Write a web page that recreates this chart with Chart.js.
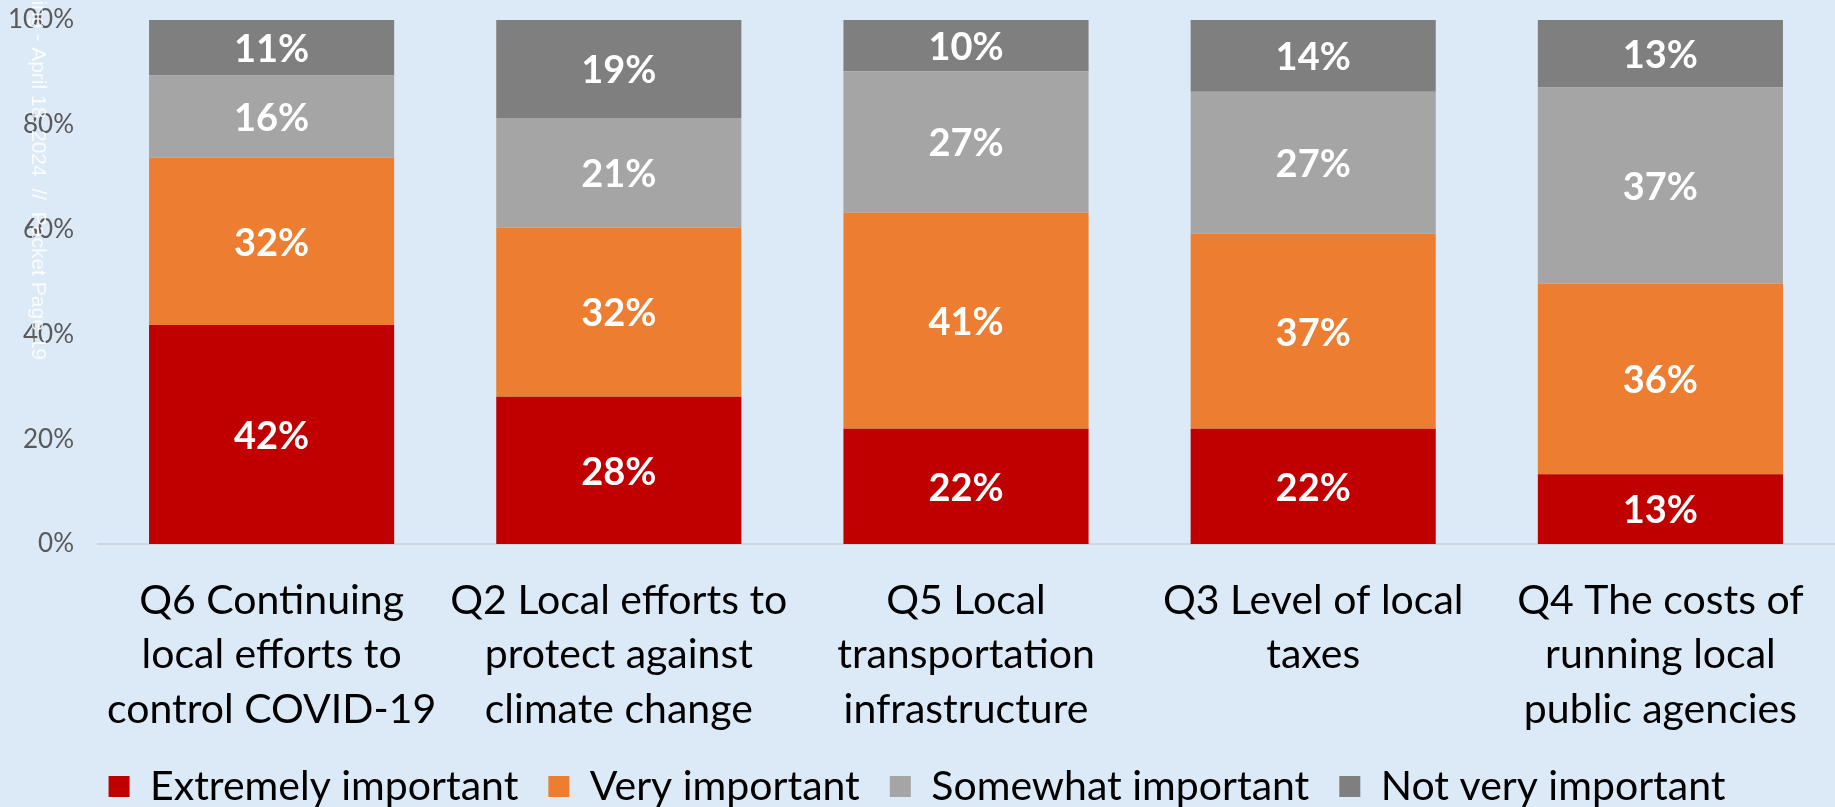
<!DOCTYPE html>
<html>
<head>
<meta charset="utf-8">
<script src="https://cdn.jsdelivr.net/npm/chart.js@4/dist/chart.umd.min.js"></script>
<style>
  html, body { margin: 0; padding: 0; background: #DCE9F6; }
  #wrap { width: 1835px; height: 807px; position: relative; }
</style>
</head>
<body>
<div id="wrap"><canvas id="c" width="1835" height="807"></canvas></div>
<script>
const categories = [
  ["Q6 Continuing", "local efforts to", "control COVID-19"],
  ["Q2 Local efforts to", "protect against", "climate change"],
  ["Q5 Local", "transportation", "infrastructure"],
  ["Q3 Level of local", "taxes"],
  ["Q4 The costs of", "running local", "public agencies"]
];
const seriesNames = ["Extremely important", "Very important", "Somewhat important", "Not very important"];
const extremelyImportant = [41.8, 28.1, 22.0, 22.0, 13.3];
const veryImportant      = [31.9, 32.3, 41.2, 37.2, 36.4];
const somewhatImportant  = [15.7, 20.9, 27.0, 27.1, 37.4];
const notVeryImportant   = [10.6, 18.7,  9.8, 13.7, 12.9];
const yTicks = [0, 20, 40, 60, 80, 100];
const colors = ["#C00000", "#ED7D31", "#A5A5A5", "#7F7F7F"];

const FONT = "Lato, 'Open Sans', sans-serif";

const dataLabels = {
  id: 'dataLabels',
  afterDatasetsDraw(chart) {
    const ctx = chart.ctx;
    ctx.save();
    ctx.fillStyle = '#FFFFFF';
    ctx.font = "bold 38px " + FONT;
    ctx.textAlign = 'center';
    ctx.textBaseline = 'middle';
    chart.data.datasets.forEach((ds, di) => {
      const meta = chart.getDatasetMeta(di);
      meta.data.forEach((el, i) => {
        const v = ds.data[i];
        const p = el.getProps(['x', 'y', 'base'], true);
        ctx.fillText(Math.round(v) + '%', p.x, (p.y + p.base) / 2 + 2);
      });
    });
    ctx.restore();
  }
};

const watermark = {
  id: 'watermark',
  afterDraw(chart) {
    const ctx = chart.ctx;
    ctx.save();
    ctx.translate(38, 0);
    ctx.rotate(Math.PI / 2);
    ctx.font = "21px 'Liberation Sans', Arial, sans-serif";
    ctx.fillStyle = 'rgba(255,255,255,0.85)';
    ctx.textAlign = 'right';
    ctx.textBaseline = 'middle';
    ctx.fillText("Meeting - April 18, 2024  //  Packet Page 19", 360, 0);
    ctx.restore();
  }
};

const bgPlugin = {
  id: 'bg',
  beforeDraw(chart) {
    const ctx = chart.ctx;
    ctx.save();
    ctx.fillStyle = '#DCE9F6';
    ctx.fillRect(0, 0, chart.width, chart.height);
    ctx.restore();
  }
};

const seriesData = [extremelyImportant, veryImportant, somewhatImportant, notVeryImportant];

new Chart(document.getElementById('c'), {
  type: 'bar',
  data: {
    labels: categories,
    datasets: seriesNames.map((n, i) => ({
      label: n,
      data: seriesData[i],
      backgroundColor: colors[i],
      borderWidth: 0,
      categoryPercentage: 1.0,
      barPercentage: 0.706
    }))
  },
  options: {
    responsive: false,
    animation: false,
    devicePixelRatio: 1,
    layout: { padding: { top: 20, right: 1, left: 0, bottom: -10 } },
    scales: {
      x: {
        stacked: true,
        afterFit(scale) { scale.height = 192; },
        grid: { display: false, drawTicks: false },
        border: { display: true, color: '#D0D7DF', width: 2 },
        ticks: {
          color: '#000000',
          font: { family: FONT, size: 41, lineHeight: 1.32 },
          padding: 30,
          maxRotation: 0,
          autoSkip: false
        }
      },
      y: {
        stacked: true,
        min: 0,
        max: 100,
        afterBuildTicks(scale) { scale.ticks = yTicks.map(v => ({ value: v })); },
        afterFit(scale) { scale.width = 98; scale.paddingTop = 0; scale.paddingBottom = 0; },
        grid: { display: false, drawTicks: false },
        border: { display: false },
        ticks: {
          color: '#595959',
          font: { family: FONT, size: 26 },
          padding: 24,
          callback: v => v + '%'
        }
      }
    },
    plugins: {
      legend: {
        position: 'bottom',
        labels: {
          color: '#000000',
          font: { family: FONT, size: 41 },
          boxWidth: 21,
          boxHeight: 21,
          padding: 30
        }
      },
      tooltip: { enabled: false }
    }
  },
  plugins: [bgPlugin, dataLabels, watermark]
});
</script>
</body>
</html>
